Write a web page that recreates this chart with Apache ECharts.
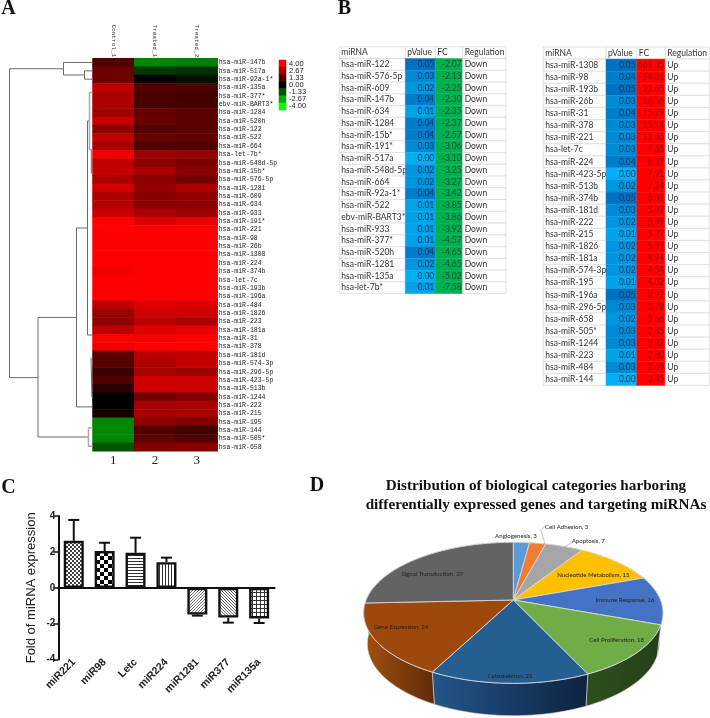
<!DOCTYPE html>
<html>
<head>
<meta charset="utf-8">
<style>
  html, body { margin: 0; padding: 0; background: #fff; }
  #main { width: 710px; height: 718px; }
</style>
<script src="https://cdn.jsdelivr.net/npm/echarts@6/dist/echarts.min.js"></script>
</head>
<body>
<div id="main"></div>
<script>
// panel A - heat map
const heatSamples = ["Control_1", "Treated_1", "Treated_2"]
const heatColumnNumbers = ["1", "2", "3"]
const heatRows = ["hsa-miR-147b", "hsa-miR-517a", "hsa-miR-92a-1*", "hsa-miR-135a", "hsa-miR-377*", "ebv-miR-BART3*", "hsa-miR-1284", "hsa-miR-520h", "hsa-miR-122", "hsa-miR-522", "hsa-miR-664", "hsa-let-7b*", "hsa-miR-548d-5p", "hsa-miR-15b*", "hsa-miR-576-5p", "hsa-miR-1281", "hsa-miR-609", "hsa-miR-634", "hsa-miR-933", "hsa-miR-191*", "hsa-miR-221", "hsa-miR-98", "hsa-miR-26b", "hsa-miR-1308", "hsa-miR-224", "hsa-miR-374b", "hsa-let-7c", "hsa-miR-193b", "hsa-miR-196a", "hsa-miR-484", "hsa-miR-1826", "hsa-miR-223", "hsa-miR-181a", "hsa-miR-31", "hsa-miR-378", "hsa-miR-181d", "hsa-miR-574-3p", "hsa-miR-296-5p", "hsa-miR-423-5p", "hsa-miR-513b", "hsa-miR-1244", "hsa-miR-222", "hsa-miR-215", "hsa-miR-195", "hsa-miR-144", "hsa-miR-505*", "hsa-miR-658"]
const heatControl = [1.25, 1.7, 1.75, 2.95, 2.7, 2.7, 2.5, 3.1, 2.25, 3.0, 2.65, 3.8, 2.95, 3.05, 2.7, 3.3, 2.75, 2.8, 3.15, 4, 4, 4, 4, 4, 4, 3.85, 4, 4, 4, 3.0, 2.4, 2.25, 2.95, 4, 3.75, 1.4, 1.35, 0.9, 1.25, 0.65, 0, 0.02, 0.3, -2.13, -2.13, -2.13, -1.3]
const heatTreated1 = [-2.1, -0.9, 0.08, 1.3, 1.15, 1.15, 1.6, 1.65, 1.25, 1.6, 1.25, 2.5, 2.2, 2.6, 2.15, 2.35, 2.15, 2.2, 2.65, 3.45, 4, 4, 4, 4, 4, 4, 4, 4, 4, 3.45, 3.25, 2.9, 3.5, 3.9, 4, 2.9, 2.75, 2.65, 3.2, 3.2, 1.75, 2.6, 2.6, 2.2, 1.25, 1.5, 2]
const heatTreated2 = [-2.0, -0.75, -0.3, 1.25, 1.05, 1.1, 1.35, 1.4, 1.4, 1.5, 1.25, 2.4, 2, 2.15, 1.8, 2.7, 2.3, 2.25, 2.5, 3.65, 4, 4, 4, 4, 4, 4, 4, 4, 4, 3.4, 3.25, 2.7, 3.65, 4, 4, 3.05, 3.1, 2.5, 3.25, 3.2, 2, 2.65, 2.65, 2, 1.05, 1.25, 2.15]
const heatScale = [4, 2.67, 1.33, 0, -1.33, -2.67, -4]
const heatScaleLabels = ["4.00", "2.67", "1.33", "0.00", "-1.33", "-2.67", "-4.00"]

// dendrogram, [distance, row] polylines, null breaks the line
const dendroDark = [
  [0, 0.5], [29, 0.5], [29, 2], [8, 2], [8, 1.5], [0, 1.5], [null, null],
  [8, 2], [8, 2.5], [0, 2.5], [null, null],
  [29, 1.25], [83, 1.25], [83, 38.2], [54.5, 38.2], [null, null],
  [54.5, 31], [54.5, 45.3], [4.5, 45.3], [null, null],
  [54.5, 31], [16, 31], [16, 20.3], [5, 20.3], [null, null],
  [16, 31], [16, 41.7], [0, 41.7], [null, null],
  [5, 7.5], [5, 33.1], [0, 33.1], [null, null],
  [5, 7.5], [3, 7.5], [null, null],
  [1.2, 10.9], [1.2, 13.8], [null, null],
  [1.5, 35.8], [0.6, 40.5]
]
const dendroGray = [
  [0, 4.1], [3, 4.1], [3, 10.9], [0, 10.9], [null, null],
  [4, 44.2], [4, 46.4], [0, 46.4], [null, null],
  [4, 44.2], [0, 44.2]
]

// panel B - tables
const tableHeader = ["miRNA", "pValue", "FC", "Regulation"]
const downMirna = ["hsa-miR-122", "hsa-miR-576-5p", "hsa-miR-609", "hsa-miR-147b", "hsa-miR-634", "hsa-miR-1284", "hsa-miR-15b*", "hsa-miR-191*", "hsa-miR-517a", "hsa-miR-548d-5p", "hsa-miR-664", "hsa-miR-92a-1*", "hsa-miR-522", "ebv-miR-BART3*", "hsa-miR-933", "hsa-miR-377*", "hsa-miR-520h", "hsa-miR-1281", "hsa-miR-135a", "hsa-let-7b*"]
const downPValue = ["0.05", "0.03", "0.02", "0.04", "0.01", "0.04", "0.04", "0.03", "0.00", "0.02", "0.02", "0.04", "0.01", "0.01", "0.01", "0.01", "0.04", "0.02", "0.00", "0.01"]
const downFC = ["-2.07", "-2.13", "-2.25", "-2.30", "-2.35", "-2.37", "-2.57", "-3.06", "-3.10", "-3.25", "-3.27", "-3.42", "-3.85", "-3.86", "-3.92", "-4.57", "-4.65", "-4.65", "-5.02", "-7.58"]
const upMirna = ["hsa-miR-1308", "hsa-miR-98", "hsa-miR-193b", "hsa-miR-26b", "hsa-miR-31", "hsa-miR-378", "hsa-miR-221", "hsa-let-7c", "hsa-miR-224", "hsa-miR-423-5p", "hsa-miR-513b", "hsa-miR-374b", "hsa-miR-181d", "hsa-miR-222", "hsa-miR-215", "hsa-miR-1826", "hsa-miR-181a", "hsa-miR-574-3p", "hsa-miR-195", "hsa-miR-196a", "hsa-miR-296-5p", "hsa-miR-658", "hsa-miR-505*", "hsa-miR-1244", "hsa-miR-223", "hsa-miR-484", "hsa-miR-144"]
const upPValue = ["0.05", "0.04", "0.05", "0.03", "0.04", "0.03", "0.03", "0.03", "0.04", "0.00", "0.02", "0.05", "0.03", "0.02", "0.01", "0.02", "0.02", "0.02", "0.01", "0.05", "0.03", "0.02", "0.03", "0.03", "0.01", "0.03", "0.00"]
const upFC = ["662.35", "24.31", "23.65", "16.56", "15.79", "15.14", "11.66", "9.65", "8.37", "7.91", "7.24", "6.01", "5.97", "5.89", "5.27", "5.19", "4.94", "4.54", "4.02", "3.97", "3.78", "3.66", "2.85", "2.82", "2.80", "2.69", "2.45"]

// panel C - bars
const barNames = ["miR221", "miR98", "Letc", "miR224", "miR1281", "miR377", "miR135a"]
const barValues = [2.62, 2.05, 1.95, 1.43, -1.49, -1.66, -1.71]
const barErrorEnds = [3.78, 2.51, 2.79, 1.68, -1.55, -1.94, -1.96]

// panel D - pie
const pieNames = ["Angiogenesis", "Cell Adhesion", "Apoptosis", "Nucleotide Metabolism", "Immune Response", "Cell Proliferation", "Cytoskeleton", "Gene Expression", "Signal Transduction"]
const pieValues = [3, 3, 7, 15, 16, 18, 21, 24, 37]

// layout and colours
const pieTopColors = ["#5b9bd5", "#ed7d31", "#a5a5a5", "#ffc000", "#4472c4", "#70ad47", "#255e91", "#9e480e", "#636363"]
const pieWallColors = [["#3c6f9e", "#3c6f9e"], ["#a5561f", "#a5561f"], ["#6e6e6e", "#6e6e6e"], ["#a57d00", "#a57d00"], ["#2a4678", "#1f3560"], ["#2f4f1e", "#24401a"], ["#24558a", "#0d2340"], ["#a5500f", "#5e2b08"], ["#404040", "#404040"]]
const pieLabelAt = [[516, 536.3], [566.7, 526.7], [588.3, 540.7], [593.3, 575.3], [625, 600], [616.7, 639.7], [510, 676], [401, 627], [432.3, 573.7]]
const tableDownEdges = [0, 66, 96, 123.4, 166.7]
const tableUpEdges = [0, 62.7, 93.4, 122, 166]

function tableCells(mirna, pValue, fc, regulation, fcFill, fcText) {
  const cells = []
  tableHeader.forEach((h, c) => cells.push([c, 0, h, "#fff", "#333", "left"]))
  mirna.forEach((name, i) => {
    const p = echarts.color.lerp(parseFloat(pValue[i]) / 0.05, ["#00b0f0", "#0070c0"])
    cells.push([0, i + 1, name, "#fff", "#333", "left"])
    cells.push([1, i + 1, pValue[i], p, "#063a6a", "right"])
    cells.push([2, i + 1, fc[i], fcFill, fcText, "right"])
    cells.push([3, i + 1, regulation, "#fff", "#333", "left"])
  })
  return cells
}

function tableSeries(cells, edges, axis) {
  return {
    type: "custom",
    xAxisIndex: axis.x,
    yAxisIndex: axis.y,
    silent: true,
    clip: false,
    encode: { x: 0, y: 1 },
    data: cells.map(d => [d[0], d[1]]),
    renderItem: function (params, api) {
      const c = api.value(0), r = api.value(1)
      const a = api.coord([edges[c], r])
      const b = api.coord([edges[c + 1], r + 1])
      const d = cells[params.dataIndex]
      const plain = d[3] === "#fff"
      return {
        type: "group",
        children: [
          {
            type: "rect",
            shape: { x: a[0], y: a[1], width: b[0] - a[0], height: b[1] - a[1] },
            style: { fill: d[3], stroke: plain ? "#dcdcdc" : d[3], lineWidth: plain ? 0.8 : 0.4 }
          },
          {
            type: "text",
            style: {
              x: d[5] === "left" ? a[0] + 2 : b[0] - 1,
              y: (a[1] + b[1]) / 2,
              text: d[2],
              font: "8.5px Lato",
              fill: d[4],
              align: d[5],
              verticalAlign: "middle"
            }
          }
        ]
      }
    }
  }
}

// bar fills
function pattern(size, draw) {
  const cv = document.createElement("canvas")
  cv.width = size
  cv.height = size
  const ctx = cv.getContext("2d")
  ctx.fillStyle = "#fff"
  ctx.fillRect(0, 0, size, size)
  ctx.fillStyle = "#000"
  draw(ctx)
  return { image: cv, repeat: "repeat" }
}

const barFills = [
  pattern(4, ctx => { ctx.fillStyle = "#444"; ctx.fillRect(0, 0, 2, 2); ctx.fillRect(2, 2, 2, 2) }),
  pattern(8, ctx => { ctx.fillRect(0, 0, 4, 4); ctx.fillRect(4, 4, 4, 4) }),
  pattern(3, ctx => { ctx.fillStyle = "#333"; ctx.fillRect(0, 0, 3, 1) }),
  pattern(3, ctx => { ctx.fillStyle = "#333"; ctx.fillRect(0, 0, 1, 3) }),
  pattern(3, ctx => { ctx.fillStyle = "#777"; for (let i = 0; i < 3; i++) ctx.fillRect(i, 2 - i, 1, 1) }),
  pattern(3, ctx => { ctx.fillStyle = "#666"; for (let i = 0; i < 3; i++) ctx.fillRect(i, i, 1, 1) }),
  pattern(4, ctx => { ctx.fillStyle = "#333"; ctx.fillRect(0, 0, 4, 1); ctx.fillRect(0, 0, 1, 4) })
]

// pie geometry, perspective disc seen from the front
const tilt = 0.182
const total = pieValues.reduce((s, v) => s + v, 0)
const sliceStart = []
pieValues.reduce((s, v, i) => { sliceStart[i] = s; return s + v }, 0)

function rimPoint(deg, lower) {
  const t = deg * Math.PI / 180
  const w = 1 + tilt * Math.cos(t)
  const x = Math.sin(t) / w, y = Math.cos(t) / w
  return lower ? [x * 0.975, y * 1.02 - 0.45] : [x, y]
}

function rimArc(from, to, lower) {
  const pts = []
  const n = Math.max(2, Math.ceil((to - from) / 2))
  for (let i = 0; i <= n; i++) pts.push(rimPoint(from + (to - from) * i / n, lower))
  return pts
}

function sliceAngles(i) {
  return [sliceStart[i] / total * 360, (sliceStart[i] + pieValues[i]) / total * 360]
}

function pieTopRender(params, api) {
  const i = api.value(0)
  const [a, b] = sliceAngles(i)
  const pts = [[0, 0]].concat(rimArc(a, b, false)).map(p => api.coord(p))
  return {
    type: "polygon",
    shape: { points: pts },
    style: { fill: pieTopColors[i], stroke: "#d8d8d8", lineWidth: 0.9 }
  }
}

function pieWallRender(params, api) {
  const i = api.value(0)
  const [a, b] = sliceAngles(i)
  const pts = rimArc(a, b, false).concat(rimArc(a, b, true).reverse()).map(p => api.coord(p))
  return {
    type: "polygon",
    shape: { points: pts },
    style: {
      fill: new echarts.graphic.LinearGradient(0, 0, 1, 0, [
        { offset: 0, color: pieWallColors[i][0] },
        { offset: 1, color: pieWallColors[i][1] }
      ]),
      stroke: "#d8d8d8",
      lineWidth: 0.6
    }
  }
}

const axisOff = { show: false }
const chart = echarts.init(document.getElementById("main"), null, { renderer: "canvas" })

const heatData = []
;[heatControl, heatTreated1, heatTreated2].forEach((col, c) => {
  col.forEach((v, r) => heatData.push([c, r, v]))
})

const option = {
  animation: false,
  backgroundColor: "#fff",
  grid: [
    { left: 92.5, top: 58.3, width: 125.2, height: 392.9, outerBoundsMode: "none" },
    { left: 279, top: 60, width: 7, height: 50, outerBoundsMode: "none" },
    { left: 0, top: 58.3, width: 92.5, height: 392.9, outerBoundsMode: "none" },
    { left: 339.3, top: 46.8, width: 166.7, height: 246.8, outerBoundsMode: "none" },
    { left: 543.3, top: 47, width: 166, height: 338.5, outerBoundsMode: "none" },
    { left: 58.3, top: 516, width: 216.3, height: 143.6, outerBoundsMode: "none" },
    { left: 351.4, top: 531.8, width: 323.8, height: 184.1, outerBoundsMode: "none" }
  ],
  xAxis: [
    {
      gridIndex: 0, type: "category", position: "top", data: heatSamples,
      axisLine: { show: false }, axisTick: { show: false },
      axisLabel: { rotate: 90, fontFamily: "Liberation Mono", fontSize: 6.1, color: "#333", margin: 1 }
    },
    {
      gridIndex: 0, type: "category", position: "bottom", data: heatColumnNumbers,
      axisLine: { show: false }, axisTick: { show: false },
      axisLabel: { fontFamily: "Liberation Serif", fontSize: 13, color: "#222", margin: 3 }
    },
    { gridIndex: 1, type: "category", data: ["scale"], ...axisOff },
    { gridIndex: 2, type: "value", min: 0, max: 92.5, inverse: true, ...axisOff },
    { gridIndex: 3, type: "value", min: 0, max: 166.7, ...axisOff },
    { gridIndex: 4, type: "value", min: 0, max: 166, ...axisOff },
    {
      gridIndex: 5, type: "category", data: barNames, z: 5,
      axisLine: { onZero: true, lineStyle: { color: "#111", width: 2 } },
      axisTick: { alignWithLabel: true, length: 5, lineStyle: { color: "#111", width: 1.5 } },
      axisLabel: { show: false }
    },
    {
      gridIndex: 5, type: "category", position: "bottom", data: barNames,
      axisLine: { show: false, onZero: false }, axisTick: { show: false },
      axisLabel: { rotate: 45, interval: 0, margin: 1, fontFamily: "Liberation Sans", fontWeight: "bold", fontSize: 10.5, color: "#222" }
    },
    { gridIndex: 6, type: "value", min: -1.1, max: 1.1, ...axisOff }
  ],
  yAxis: [
    {
      gridIndex: 0, type: "category", position: "right", inverse: true, data: heatRows,
      axisLine: { show: false }, axisTick: { show: false },
      axisLabel: { interval: 0, fontFamily: "Liberation Mono", fontSize: 6.5, color: "#222", margin: 1 }
    },
    {
      gridIndex: 1, type: "category", position: "right", inverse: true, data: heatScaleLabels,
      axisLine: { show: false }, axisTick: { show: false },
      axisLabel: { interval: 0, fontFamily: "Liberation Sans", fontSize: 7.5, color: "#222", margin: 3, padding: [4, 0, 0, 0] }
    },
    { gridIndex: 2, type: "value", min: 0, max: 47, inverse: true, ...axisOff },
    { gridIndex: 3, type: "value", min: 0, max: 21, inverse: true, ...axisOff },
    { gridIndex: 4, type: "value", min: 0, max: 28, inverse: true, ...axisOff },
    {
      gridIndex: 5, type: "value", min: -4, max: 4, interval: 2,
      name: "Fold of miRNA expression", nameLocation: "middle", nameGap: 20,
      nameTextStyle: { fontFamily: "Liberation Sans", fontSize: 13, color: "#222" },
      splitLine: { show: false },
      axisLine: { show: true, onZero: false, lineStyle: { color: "#111", width: 2 } },
      axisTick: { show: true, length: 5, lineStyle: { color: "#111", width: 1.5 } },
      axisLabel: { fontFamily: "Liberation Sans", fontWeight: "bold", fontSize: 10, color: "#222", margin: 3 }
    },
    { gridIndex: 6, type: "value", min: -1.7, max: 1, ...axisOff }
  ],
  visualMap: {
    show: false, seriesIndex: [0, 1], dimension: 2, min: -4, max: 4,
    inRange: { color: ["#00ff00", "#000000", "#ff0000"] }
  },
  series: [
    {
      type: "heatmap", xAxisIndex: 0, yAxisIndex: 0, silent: true, data: heatData,
      itemStyle: { borderWidth: 0 }
    },
    {
      type: "heatmap", xAxisIndex: 2, yAxisIndex: 1, silent: true,
      data: heatScale.map((v, i) => [0, i, v])
    },
    {
      type: "line", xAxisIndex: 3, yAxisIndex: 2, silent: true, symbol: "none", connectNulls: false,
      lineStyle: { color: "#6a6a6a", width: 1 }, data: dendroDark
    },
    {
      type: "line", xAxisIndex: 3, yAxisIndex: 2, silent: true, symbol: "none", connectNulls: false,
      lineStyle: { color: "#a8a8a8", width: 1.5 }, data: dendroGray
    },
    tableSeries(tableCells(downMirna, downPValue, downFC, "Down", "#00b050", "#08572e"), tableDownEdges, { x: 4, y: 3 }),
    tableSeries(tableCells(upMirna, upPValue, upFC, "Up", "#ff0000", "#960c0c"), tableUpEdges, { x: 5, y: 4 }),
    {
      type: "bar", xAxisIndex: 6, yAxisIndex: 5, silent: true, barWidth: 20,
      data: barValues.map((v, i) => ({
        value: v,
        itemStyle: { color: barFills[i], borderColor: "#111", borderWidth: 2.4 }
      }))
    },
    {
      type: "custom", xAxisIndex: 6, yAxisIndex: 5, silent: true, z: 4,
      data: barValues.map((v, i) => [i, v, barErrorEnds[i]]),
      encode: { x: 0, y: [1, 2] },
      renderItem: function (params, api) {
        const a = api.coord([api.value(0), api.value(1)])
        const b = api.coord([api.value(0), api.value(2)])
        const line = { stroke: "#111", lineWidth: 2 }
        return {
          type: "group",
          children: [
            { type: "line", shape: { x1: a[0], y1: a[1], x2: b[0], y2: b[1] }, style: line },
            { type: "line", shape: { x1: b[0] - 5.5, y1: b[1], x2: b[0] + 5.5, y2: b[1] }, style: line }
          ]
        }
      }
    },
    {
      type: "custom", xAxisIndex: 8, yAxisIndex: 6, silent: true, clip: false, z: 2,
      data: pieValues.map((v, i) => [i]),
      encode: { x: 0 },
      renderItem: pieWallRender
    },
    {
      type: "custom", xAxisIndex: 8, yAxisIndex: 6, silent: true, clip: false, z: 3,
      data: pieValues.map((v, i) => [i]),
      encode: { x: 0 },
      renderItem: pieTopRender
    }
  ],
  graphic: [
    ...[["A", 8.5, 9], ["B", 344.5, 9], ["C", 8.5, 488], ["D", 317, 486]].map(l => ({
      type: "text", x: l[1], y: l[2],
      style: { text: l[0], font: "bold 20px 'Liberation Serif'", fill: "#111", align: "center", verticalAlign: "middle" }
    })),
    {
      type: "text", x: 536, y: 486.5,
      style: { text: "Distribution of biological categories harboring", font: "bold 15.2px 'Liberation Serif'", fill: "#111", align: "center", verticalAlign: "middle" }
    },
    {
      type: "text", x: 536, y: 505,
      style: { text: "differentially expressed genes and targeting miRNAs", font: "bold 15.2px 'Liberation Serif'", fill: "#111", align: "center", verticalAlign: "middle" }
    },
    ...pieNames.map((n, i) => ({
      type: "text", x: pieLabelAt[i][0], y: pieLabelAt[i][1], z: 20,
      style: { text: n + ", " + pieValues[i], font: "6.1px Lato", fill: "#222", align: "center", verticalAlign: "middle" }
    })),
    { type: "polyline", z: 20, shape: { points: [[545, 544], [540.7, 530], [545, 526.7]] }, style: { stroke: "#aaa", lineWidth: 0.7, fill: null } },
    { type: "polyline", z: 20, shape: { points: [[563.3, 547.3], [575.3, 540.7]] }, style: { stroke: "#aaa", lineWidth: 0.7, fill: null } }
  ]
}

chart.setOption(option)
</script>
</body>
</html>
